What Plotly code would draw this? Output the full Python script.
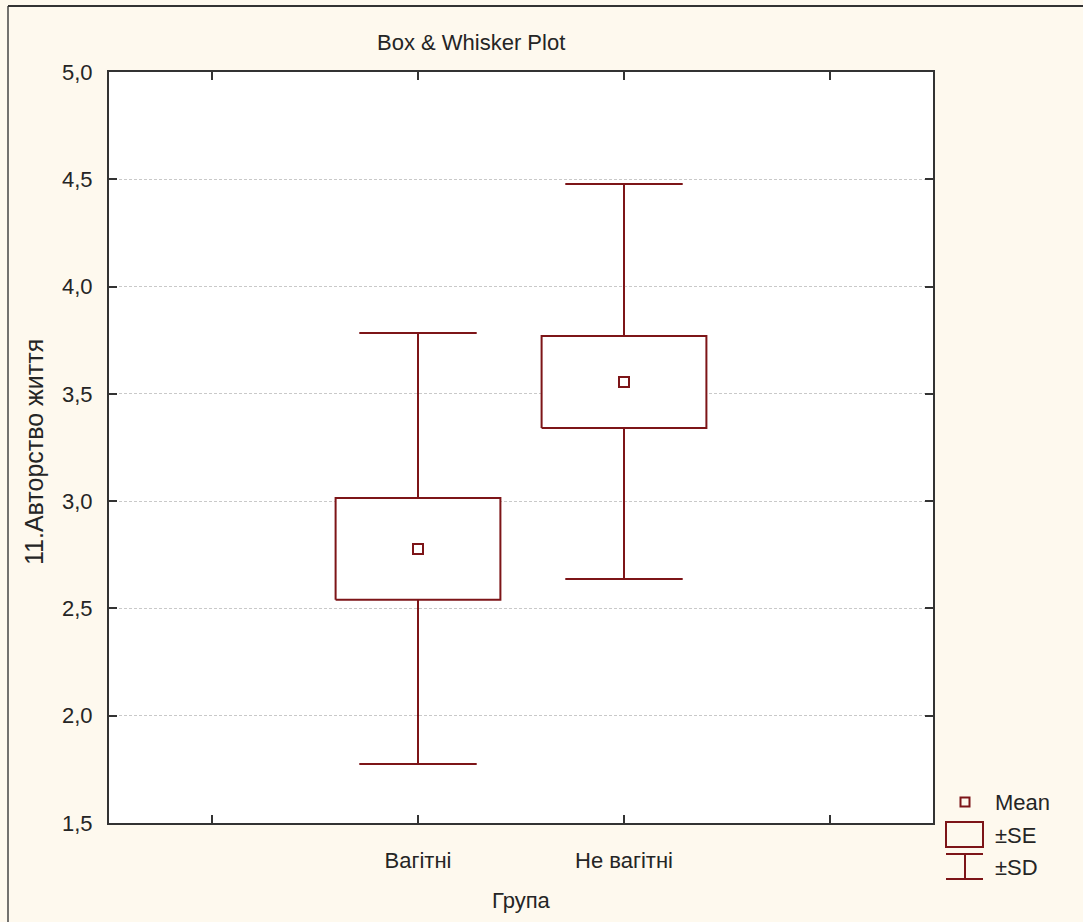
import plotly.graph_objects as go

# ---- data ----
groups = ["Вагітні", "Не вагітні"]
means = [2.777, 3.555]
se_low = [2.540, 3.341]
se_high = [3.015, 3.770]
sd_low = [1.775, 2.637]
sd_high = [3.784, 4.478]
y_ticks = [1.5, 2.0, 2.5, 3.0, 3.5, 4.0, 4.5, 5.0]
x_title = "Група"
y_title = "11.Авторство життя"
chart_title = "Box & Whisker Plot"
legend_labels = ["Mean", "±SE", "±SD"]

# ---- style ----
W, H = 1083, 922
ML, MR, MT, MB = 109, 150, 72, 99
PW, PH = W - ML - MR, H - MT - MB
RED = "#7D1518"
TXT = "#252525"
BG = "#FEF9EE"
FONT = "Liberation Sans, Arial, sans-serif"
FS = 22
BOX_HALF = 0.4
CAP_HALF = 0.285


def px(x):
    return (x - ML) / PW


def py(y):
    return (H - MB - y) / PH


fig = go.Figure()
xpos = list(range(1, len(groups) + 1))

for i, c in enumerate(xpos):
    # SE box
    fig.add_trace(go.Scatter(
        x=[c - BOX_HALF, c + BOX_HALF, c + BOX_HALF, c - BOX_HALF, c - BOX_HALF],
        y=[se_low[i], se_low[i], se_high[i], se_high[i], se_low[i]],
        mode="lines", line=dict(color=RED, width=2), fill="toself",
        fillcolor="white", showlegend=False, hoverinfo="skip"))
    # SD whiskers
    fig.add_trace(go.Scatter(
        x=[c, c, None, c - CAP_HALF, c + CAP_HALF, None,
           c, c, None, c - CAP_HALF, c + CAP_HALF],
        y=[se_high[i], sd_high[i], None, sd_high[i], sd_high[i], None,
           se_low[i], sd_low[i], None, sd_low[i], sd_low[i]],
        mode="lines", line=dict(color=RED, width=2),
        showlegend=False, hoverinfo="skip"))

fig.add_trace(go.Scatter(
    x=xpos, y=means, mode="markers",
    marker=dict(symbol="square-open", size=10, color=RED, line=dict(width=2)),
    showlegend=False))

shapes = []
annotations = []

# outer border (left & top)
shapes.append(dict(type="line", xref="paper", yref="paper",
                   x0=px(8), x1=px(8), y0=py(6), y1=py(H + 5),
                   line=dict(color="#444", width=1.5)))
shapes.append(dict(type="line", xref="paper", yref="paper",
                   x0=px(8), x1=px(W + 5), y0=py(6), y1=py(6),
                   line=dict(color="#333", width=2)))

# legend
shapes.append(dict(type="rect", xref="paper", yref="paper",
                   x0=px(960.5), x1=px(969.5), y0=py(797.5), y1=py(806.5),
                   line=dict(color=RED, width=2), fillcolor="rgba(0,0,0,0)"))
shapes.append(dict(type="rect", xref="paper", yref="paper",
                   x0=px(946), x1=px(983), y0=py(822), y1=py(847),
                   line=dict(color=RED, width=2), fillcolor="rgba(0,0,0,0)"))
for seg in [(946, 854, 983, 854), (965, 854, 965, 879), (946, 879, 983, 879)]:
    shapes.append(dict(type="line", xref="paper", yref="paper",
                       x0=px(seg[0]), y0=py(seg[1]), x1=px(seg[2]), y1=py(seg[3]),
                       line=dict(color=RED, width=2)))
for lab, yy in zip(legend_labels, [802, 835, 867]):
    annotations.append(dict(text=lab, xref="paper", yref="paper",
                            x=px(993), y=py(yy), xanchor="left", yanchor="middle",
                            showarrow=False, font=dict(family=FONT, size=FS, color=TXT)))

# titles
annotations.append(dict(text=chart_title, xref="paper", yref="paper",
                        x=px(471), y=py(43), xanchor="center", yanchor="middle",
                        showarrow=False, font=dict(family=FONT, size=FS, color=TXT)))
annotations.append(dict(text=x_title, xref="paper", yref="paper",
                        x=px(521), y=py(900), xanchor="center", yanchor="middle",
                        showarrow=False, font=dict(family=FONT, size=FS, color=TXT)))
annotations.append(dict(text=y_title, xref="paper", yref="paper",
                        x=px(34), y=py(452), xanchor="center", yanchor="middle",
                        textangle=-90,
                        showarrow=False, font=dict(family=FONT, size=25, color=TXT)))

fig.update_layout(
    width=W, height=H,
    margin=dict(l=ML, r=MR, t=MT, b=MB, pad=0),
    paper_bgcolor=BG, plot_bgcolor="white",
    separators=",.",
    showlegend=False,
    shapes=shapes, annotations=annotations,
    font=dict(family=FONT, size=FS, color=TXT),
)
fig.update_xaxes(
    range=[-0.5, len(groups) + 1.5],
    tickvals=list(range(0, len(groups) + 2)),
    ticktext=[""] + groups + [""],
    ticks="inside", ticklen=8, tickwidth=1.5, tickcolor="#333",
    showline=True, linecolor="#333", linewidth=2, mirror="ticks",
    showgrid=False, zeroline=False, ticklabelstandoff=17,
    tickfont=dict(family=FONT, size=FS, color=TXT),
)
fig.update_yaxes(
    range=[min(y_ticks), max(y_ticks)],
    tickvals=y_ticks, tickformat=".1f",
    ticks="inside", ticklen=8, tickwidth=1.5, tickcolor="#333",
    showline=True, linecolor="#333", linewidth=2, mirror="ticks",
    showgrid=True, gridcolor="#C9C9C9", gridwidth=1, griddash="3px,2px",
    zeroline=False, ticklabelstandoff=10,
    tickfont=dict(family=FONT, size=FS, color=TXT),
)

fig.write_html("out.html")
